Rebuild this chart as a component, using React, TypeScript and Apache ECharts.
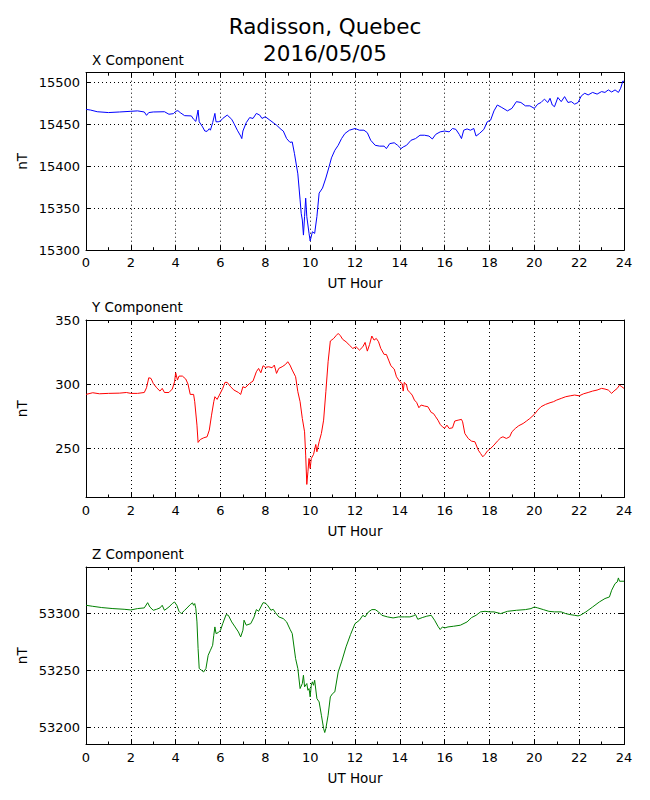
import React, { useEffect, useRef } from "react";
import * as echarts from "echarts";

const TITLE_LINES = ["Radisson, Quebec", "2016/05/05"];
const PANEL_TITLES = ["X Component", "Y Component", "Z Component"];
const X_AXIS_NAME = "UT Hour";
const Y_AXIS_NAME = "nT";

const X_TICKS = [15300, 15350, 15400, 15450, 15500];
const Y_TICKS = [250, 300, 350];
const Z_TICKS = [53200, 53250, 53300];

const X_RANGE = [15300, 15511.5];
const Y_RANGE = [211.7, 350.3];
const Z_RANGE = [53185.1, 53340.9];

// [UT hour, nT]
const X_COMPONENT: [number, number][] = [
  [0, 15467.8], [0.2, 15467], [0.5, 15465], [1, 15464], [1.5, 15464.7], [2, 15465.5],
  [2.3, 15466], [2.6, 15464.7], [2.7, 15460.7], [2.8, 15464], [3, 15464.7], [3.5, 15465],
  [3.7, 15462], [3.9, 15462.7], [4.0, 15465.5], [4.1, 15466.3], [4.2, 15464], [4.4, 15460.3],
  [4.7, 15460], [4.8, 15456], [4.9, 15453.5], [5.0, 15467], [5.05, 15453], [5.2, 15447],
  [5.3, 15442], [5.4, 15441.6], [5.5, 15444.8], [5.55, 15443], [5.65, 15452], [5.75, 15463],
  [5.8, 15453], [5.9, 15453], [6.0, 15454], [6.1, 15457], [6.3, 15461], [6.5, 15456],
  [6.6, 15451], [6.75, 15443], [6.9, 15436], [6.95, 15433], [7.0, 15442], [7.15, 15452],
  [7.3, 15458], [7.45, 15457], [7.6, 15463], [7.75, 15461], [7.85, 15457], [8.0, 15459],
  [8.2, 15455], [8.35, 15452], [8.5, 15449], [8.7, 15444], [8.8, 15442], [8.95, 15433],
  [9.1, 15428.5], [9.2, 15429], [9.3, 15415], [9.45, 15391], [9.55, 15360], [9.6, 15344],
  [9.65, 15336], [9.7, 15318], [9.75, 15340], [9.8, 15362], [9.85, 15340], [9.95, 15320],
  [10.0, 15311], [10.1, 15322], [10.2, 15320], [10.3, 15340], [10.4, 15368], [10.55, 15374],
  [10.7, 15386], [10.85, 15400], [10.95, 15410], [11.1, 15419], [11.25, 15425], [11.4, 15433],
  [11.55, 15439], [11.75, 15443], [12.0, 15445], [12.2, 15443], [12.4, 15443], [12.55, 15440],
  [12.7, 15431], [12.9, 15425], [13.1, 15424], [13.3, 15424], [13.4, 15421], [13.55, 15427],
  [13.75, 15428], [13.9, 15425], [14.05, 15421], [14.15, 15423], [14.3, 15425], [14.5, 15431],
  [14.7, 15433], [14.9, 15437], [15.1, 15437], [15.3, 15436], [15.45, 15432.5], [15.6, 15438],
  [15.8, 15441], [16.0, 15442], [16.2, 15441], [16.35, 15445], [16.5, 15444], [16.65, 15438],
  [16.75, 15433], [16.85, 15443], [17.0, 15444.5], [17.15, 15443], [17.3, 15445], [17.4, 15436],
  [17.55, 15439], [17.75, 15444], [17.9, 15453], [18.05, 15455], [18.2, 15466], [18.35, 15473],
  [18.55, 15470], [18.8, 15466], [19.0, 15469], [19.2, 15477], [19.4, 15476], [19.6, 15472],
  [19.8, 15472], [20.0, 15469], [20.15, 15474], [20.3, 15476], [20.45, 15480], [20.6, 15476],
  [20.7, 15481], [20.8, 15473], [20.9, 15471], [21.05, 15482], [21.2, 15477], [21.35, 15483],
  [21.5, 15476], [21.65, 15477], [21.8, 15474], [21.95, 15476], [22.1, 15484], [22.25, 15487],
  [22.4, 15485], [22.6, 15488], [22.8, 15486], [23.0, 15489], [23.15, 15488], [23.3, 15491],
  [23.45, 15488.5], [23.6, 15491], [23.75, 15488], [23.85, 15493], [23.95, 15501.6], [24.0, 15501],
];

const Y_COMPONENT: [number, number][] = [
  [0, 292.2], [0.3, 293.5], [0.6, 292.7], [1.0, 293], [1.5, 293.2], [1.8, 293.7], [2.0, 293],
  [2.3, 293], [2.6, 293.7], [2.7, 297.4], [2.8, 305.2], [2.9, 304.7], [3.0, 300.8], [3.15, 297.4],
  [3.3, 294.8], [3.4, 296.9], [3.5, 293.7], [3.7, 293.7], [3.85, 296.4], [3.95, 302], [4.0, 309.1],
  [4.08, 303.4], [4.15, 306.5], [4.3, 306.5], [4.45, 304.2], [4.55, 300.3], [4.65, 292.2],
  [4.8, 292.2], [4.85, 286.5], [4.95, 268.2], [5.0, 254.7], [5.1, 257], [5.25, 258.3], [5.4, 259.1],
  [5.5, 264.3], [5.6, 276], [5.7, 286.5], [5.75, 290.4], [5.85, 288.3], [5.95, 291.7], [6.1, 296.9],
  [6.2, 301.6], [6.3, 301.6], [6.45, 298.2], [6.6, 295.6], [6.8, 293.7], [6.9, 292.2], [7.0, 298.2],
  [7.1, 297.4], [7.3, 300.8], [7.45, 302.6], [7.6, 309.9], [7.7, 312.5], [7.8, 309.1], [7.9, 314.6],
  [8.0, 313.3], [8.15, 313.8], [8.3, 313], [8.4, 315.1], [8.5, 308.6], [8.6, 312.5], [8.75, 313.8],
  [8.9, 315.6], [9.0, 317.7], [9.1, 315.1], [9.2, 311.2], [9.35, 306], [9.45, 294.3], [9.55, 286.5],
  [9.65, 273.4], [9.75, 263], [9.8, 244.8], [9.85, 221.9], [9.9, 231.8], [9.95, 242.2], [10.0, 234.4],
  [10.05, 242.2], [10.15, 245.3], [10.25, 253.1], [10.3, 247.4], [10.4, 255.2], [10.5, 261.7],
  [10.6, 272.1], [10.7, 294.3], [10.8, 317.7], [10.9, 333.9], [11.05, 335.9], [11.15, 338],
  [11.25, 339.8], [11.35, 338], [11.45, 335.2], [11.6, 333.3], [11.75, 330.7], [11.9, 328.1],
  [12.05, 329.4], [12.2, 326.8], [12.35, 329.4], [12.45, 332.8], [12.55, 326], [12.65, 331.2],
  [12.75, 337.8], [12.85, 334.6], [12.95, 335.9], [13.05, 333.3], [13.15, 328.1], [13.3, 323.4],
  [13.4, 323.4], [13.5, 319], [13.6, 314.6], [13.75, 312], [13.85, 306], [14.0, 302.1], [14.1, 300.8],
  [14.15, 294.8], [14.2, 301.6], [14.3, 299.5], [14.35, 295.6], [14.45, 293.7], [14.55, 291.7],
  [14.65, 287.8], [14.75, 285.9], [14.85, 281.8], [14.95, 283.9], [15.1, 283.1], [15.25, 282.6],
  [15.4, 278.1], [15.5, 277.3], [15.6, 274.7], [15.7, 272.1], [15.8, 268.8], [15.9, 266.9],
  [16.0, 265.8], [16.1, 268.2], [16.2, 265.6], [16.35, 266.1], [16.45, 271.4], [16.6, 272.1],
  [16.75, 272.7], [16.8, 270.8], [16.9, 261.7], [17.05, 257.8], [17.2, 255.7], [17.35, 255.2],
  [17.5, 248.7], [17.6, 246.1], [17.7, 243.5], [17.8, 245.3], [17.9, 247.9], [18.05, 250],
  [18.2, 252.6], [18.35, 255.7], [18.5, 258.3], [18.6, 259.1], [18.75, 257.8], [18.9, 259.1],
  [19.0, 263], [19.15, 265.6], [19.3, 267.7], [19.5, 269.5], [19.65, 271.4], [19.8, 273.4],
  [20.0, 276.6], [20.15, 279.9], [20.3, 282.6], [20.5, 284.4], [20.7, 285.7], [20.85, 286.5],
  [21.0, 287.8], [21.2, 289.1], [21.4, 290.4], [21.6, 291.1], [21.8, 291.7], [22.0, 291.1],
  [22.2, 292.7], [22.4, 293.7], [22.6, 294.8], [22.8, 295.6], [23.0, 296.9], [23.15, 296.4],
  [23.3, 295.6], [23.45, 293], [23.55, 294.8], [23.7, 296.9], [23.8, 299.5], [23.9, 298.2], [24.0, 296.9],
];

const Z_COMPONENT: [number, number][] = [
  [0, 53307.3], [0.3, 53306.4], [0.7, 53305.3], [1.2, 53304.4], [1.7, 53303.8], [2.0, 53303.2],
  [2.3, 53304.4], [2.6, 53305], [2.75, 53309.6], [2.85, 53305.8], [3.0, 53302.9], [3.15, 53303.8],
  [3.3, 53305], [3.4, 53307.3], [3.5, 53302.9], [3.7, 53305.8], [3.85, 53308.8], [3.95, 53310.2],
  [4.05, 53307.3], [4.15, 53302], [4.25, 53300], [4.4, 53302.9], [4.55, 53305.8], [4.65, 53307.9],
  [4.75, 53309.4], [4.8, 53307.3], [4.85, 53308.8], [4.9, 53304.4], [4.95, 53292.7], [5.0, 53269.3],
  [5.05, 53251.8], [5.15, 53250.3], [5.25, 53248.8], [5.35, 53251.8], [5.45, 53263.4], [5.55, 53267.8],
  [5.65, 53272.2], [5.7, 53281], [5.75, 53288.3], [5.8, 53282.5], [5.9, 53283.3], [6.0, 53285.4],
  [6.1, 53291.2], [6.25, 53299.1], [6.35, 53298.5], [6.5, 53292.7], [6.65, 53288.3], [6.8, 53283.9],
  [6.9, 53279.5], [7.0, 53285.4], [7.05, 53294.2], [7.15, 53289.8], [7.35, 53291.2], [7.5, 53297.1],
  [7.6, 53303.5], [7.7, 53302], [7.8, 53305.8], [7.9, 53309.6], [8.0, 53309.2], [8.1, 53307.3],
  [8.25, 53302.9], [8.35, 53303.8], [8.45, 53300.9], [8.6, 53297.1], [8.8, 53295.6], [8.95, 53292.7],
  [9.1, 53286.3], [9.2, 53282.5], [9.35, 53260.5], [9.45, 53251.8], [9.55, 53234.2], [9.65, 53238.6],
  [9.7, 53245.9], [9.75, 53235.7], [9.85, 53238.6], [9.9, 53232.7], [9.95, 53234.2], [10.0, 53226.9],
  [10.05, 53237.1], [10.1, 53240.1], [10.15, 53237.1], [10.2, 53241.5], [10.3, 53225.4], [10.4, 53222.5],
  [10.5, 53210.8], [10.6, 53199.1], [10.65, 53195.6], [10.7, 53199.1], [10.8, 53210.8], [10.9, 53226.9],
  [11.0, 53229.8], [11.1, 53231.3], [11.25, 53248.8], [11.4, 53257.6], [11.6, 53270.8], [11.8, 53281.6],
  [12.0, 53291.2], [12.2, 53294.2], [12.35, 53298.5], [12.45, 53297.1], [12.6, 53301.5], [12.75, 53303.5],
  [12.9, 53303.5], [13.05, 53301.5], [13.2, 53298.5], [13.45, 53297.1], [13.7, 53296.2], [13.95, 53297.1],
  [14.2, 53297.1], [14.45, 53297.1], [14.6, 53298], [14.7, 53299.1], [14.8, 53295], [15.0, 53296.5],
  [15.2, 53297.7], [15.4, 53298.5], [15.55, 53294.2], [15.7, 53288.9], [15.8, 53286], [15.9, 53288.3],
  [16.0, 53287.4], [16.15, 53288.3], [16.4, 53288.9], [16.7, 53289.8], [17.0, 53292.7], [17.2, 53296.5],
  [17.4, 53298.5], [17.6, 53301.5], [17.8, 53302], [18.0, 53301.5], [18.2, 53301.5], [18.5, 53300],
  [18.8, 53302], [19.2, 53302.9], [19.6, 53303.5], [19.85, 53304.4], [20.0, 53305.8], [20.15, 53305],
  [20.4, 53303.5], [20.65, 53302], [20.9, 53301.5], [21.2, 53301.5], [21.4, 53300], [21.6, 53299.1],
  [21.8, 53298.5], [21.95, 53298], [22.05, 53298.5], [22.3, 53301.5], [22.6, 53305.8], [22.9, 53310.2],
  [23.15, 53313.2], [23.35, 53314.6], [23.45, 53320.5], [23.6, 53326.3], [23.7, 53327.8], [23.75, 53331.3],
  [23.8, 53328.4], [24.0, 53328.4],
];

const PANELS = [
  { data: X_COMPONENT, ticks: X_TICKS, range: X_RANGE, color: "#0000ff" },
  { data: Y_COMPONENT, ticks: Y_TICKS, range: Y_RANGE, color: "#ff0000" },
  { data: Z_COMPONENT, ticks: Z_TICKS, range: Z_RANGE, color: "#008000" },
];

const FONT = "DejaVu Sans";
const GRID_LEFT = 86;
const GRID_WIDTH = 538;
const GRID_TOPS = [72.7, 320, 567];
const GRID_HEIGHT = 177.5;

export default function App() {
  const ref = useRef<HTMLDivElement>(null);

  useEffect(() => {
    if (!ref.current) return;
    const chart = echarts.init(ref.current, null, { renderer: "svg" });

    const grids: any[] = [];
    const xAxes: any[] = [];
    const yAxes: any[] = [];
    const series: any[] = [];
    const graphics: any[] = [];

    const black = { color: "#000", width: 1 };
    const plain = (v: number) => String(v);

    PANELS.forEach((p, i) => {
      const top = GRID_TOPS[i];
      grids.push({
        left: GRID_LEFT,
        top,
        width: GRID_WIDTH,
        height: GRID_HEIGHT,
        containLabel: false,
        outerBoundsMode: "none",
      });
      xAxes.push({
        type: "value",
        gridIndex: i,
        position: "bottom",
        min: 0,
        max: 24,
        interval: 2,
        axisLine: { show: true, onZero: false, lineStyle: black },
        axisTick: { show: true, inside: true, length: 5, lineStyle: black },
        minorTick: { show: true, splitNumber: 2, length: 3, lineStyle: black },
        axisLabel: {
          show: true,
          color: "#000",
          fontSize: 13,
          fontFamily: FONT,
          margin: 6,
          showMinLabel: true,
          showMaxLabel: true,
          formatter: plain,
        },
        splitLine: { show: true, lineStyle: { color: "#000", width: 1, type: [1, 3] } },
      });
      xAxes.push({
        type: "value",
        gridIndex: i,
        position: "top",
        min: 0,
        max: 24,
        interval: 2,
        axisLine: { show: true, onZero: false, lineStyle: black },
        axisTick: { show: true, inside: true, length: 5, lineStyle: black },
        minorTick: { show: true, splitNumber: 2, length: 3, lineStyle: black },
        axisLabel: { show: false },
        splitLine: { show: false },
      });
      yAxes.push({
        type: "value",
        gridIndex: i,
        position: "left",
        min: p.range[0],
        max: p.range[1],
        axisLine: { show: true, onZero: false, lineStyle: black },
        axisTick: { show: true, inside: true, length: 5, lineStyle: black, customValues: p.ticks },
        axisLabel: {
          show: true,
          color: "#000",
          fontSize: 13,
          fontFamily: FONT,
          margin: 6,
          customValues: p.ticks,
          formatter: plain,
        },
        splitLine: { show: true, lineStyle: { color: "#000", width: 1, type: [1, 3] } },
      });
      yAxes.push({
        type: "value",
        gridIndex: i,
        position: "right",
        min: p.range[0],
        max: p.range[1],
        axisLine: { show: true, onZero: false, lineStyle: black },
        axisTick: { show: true, inside: true, length: 5, lineStyle: black, customValues: p.ticks },
        axisLabel: { show: false, customValues: p.ticks },
        splitLine: { show: false },
      });

      series.push({
        type: "line",
        xAxisIndex: 2 * i,
        yAxisIndex: 2 * i,
        data: p.data,
        showSymbol: false,
        symbol: "none",
        lineStyle: { color: p.color, width: 1 },
        itemStyle: { color: p.color },
        clip: true,
        silent: true,
        z: 3,
      });

      graphics.push({
        type: "text",
        left: 92,
        top: top - 20,
        style: { text: PANEL_TITLES[i], font: `13.5px "${FONT}"`, fill: "#000" },
      });
      graphics.push({
        type: "text",
        x: GRID_LEFT + GRID_WIDTH / 2,
        y: top + GRID_HEIGHT + 33,
        style: {
          text: X_AXIS_NAME,
          font: `13.5px "${FONT}"`,
          fill: "#000",
          align: "center",
          verticalAlign: "middle",
        },
      });
      graphics.push({
        type: "text",
        x: 22,
        y: top + GRID_HEIGHT / 2,
        rotation: Math.PI / 2,
        style: {
          text: Y_AXIS_NAME,
          font: `13.5px "${FONT}"`,
          fill: "#000",
          align: "center",
          verticalAlign: "middle",
        },
      });
    });

    graphics.push({
      type: "text",
      x: 325,
      y: 26,
      style: {
        text: TITLE_LINES[0],
        font: `21.5px "${FONT}"`,
        fill: "#000",
        align: "center",
        verticalAlign: "middle",
      },
    });
    graphics.push({
      type: "text",
      x: 325,
      y: 53,
      style: {
        text: TITLE_LINES[1],
        font: `21.5px "${FONT}"`,
        fill: "#000",
        align: "center",
        verticalAlign: "middle",
      },
    });

    chart.setOption({
      animation: false,
      backgroundColor: "#ffffff",
      grid: grids,
      xAxis: xAxes,
      yAxis: yAxes,
      series,
      graphic: graphics,
    });

    return () => chart.dispose();
  }, []);

  return (
    <div
      ref={ref}
      style={{ position: "absolute", left: 0, top: 0, width: 650, height: 800 }}
    />
  );
}
